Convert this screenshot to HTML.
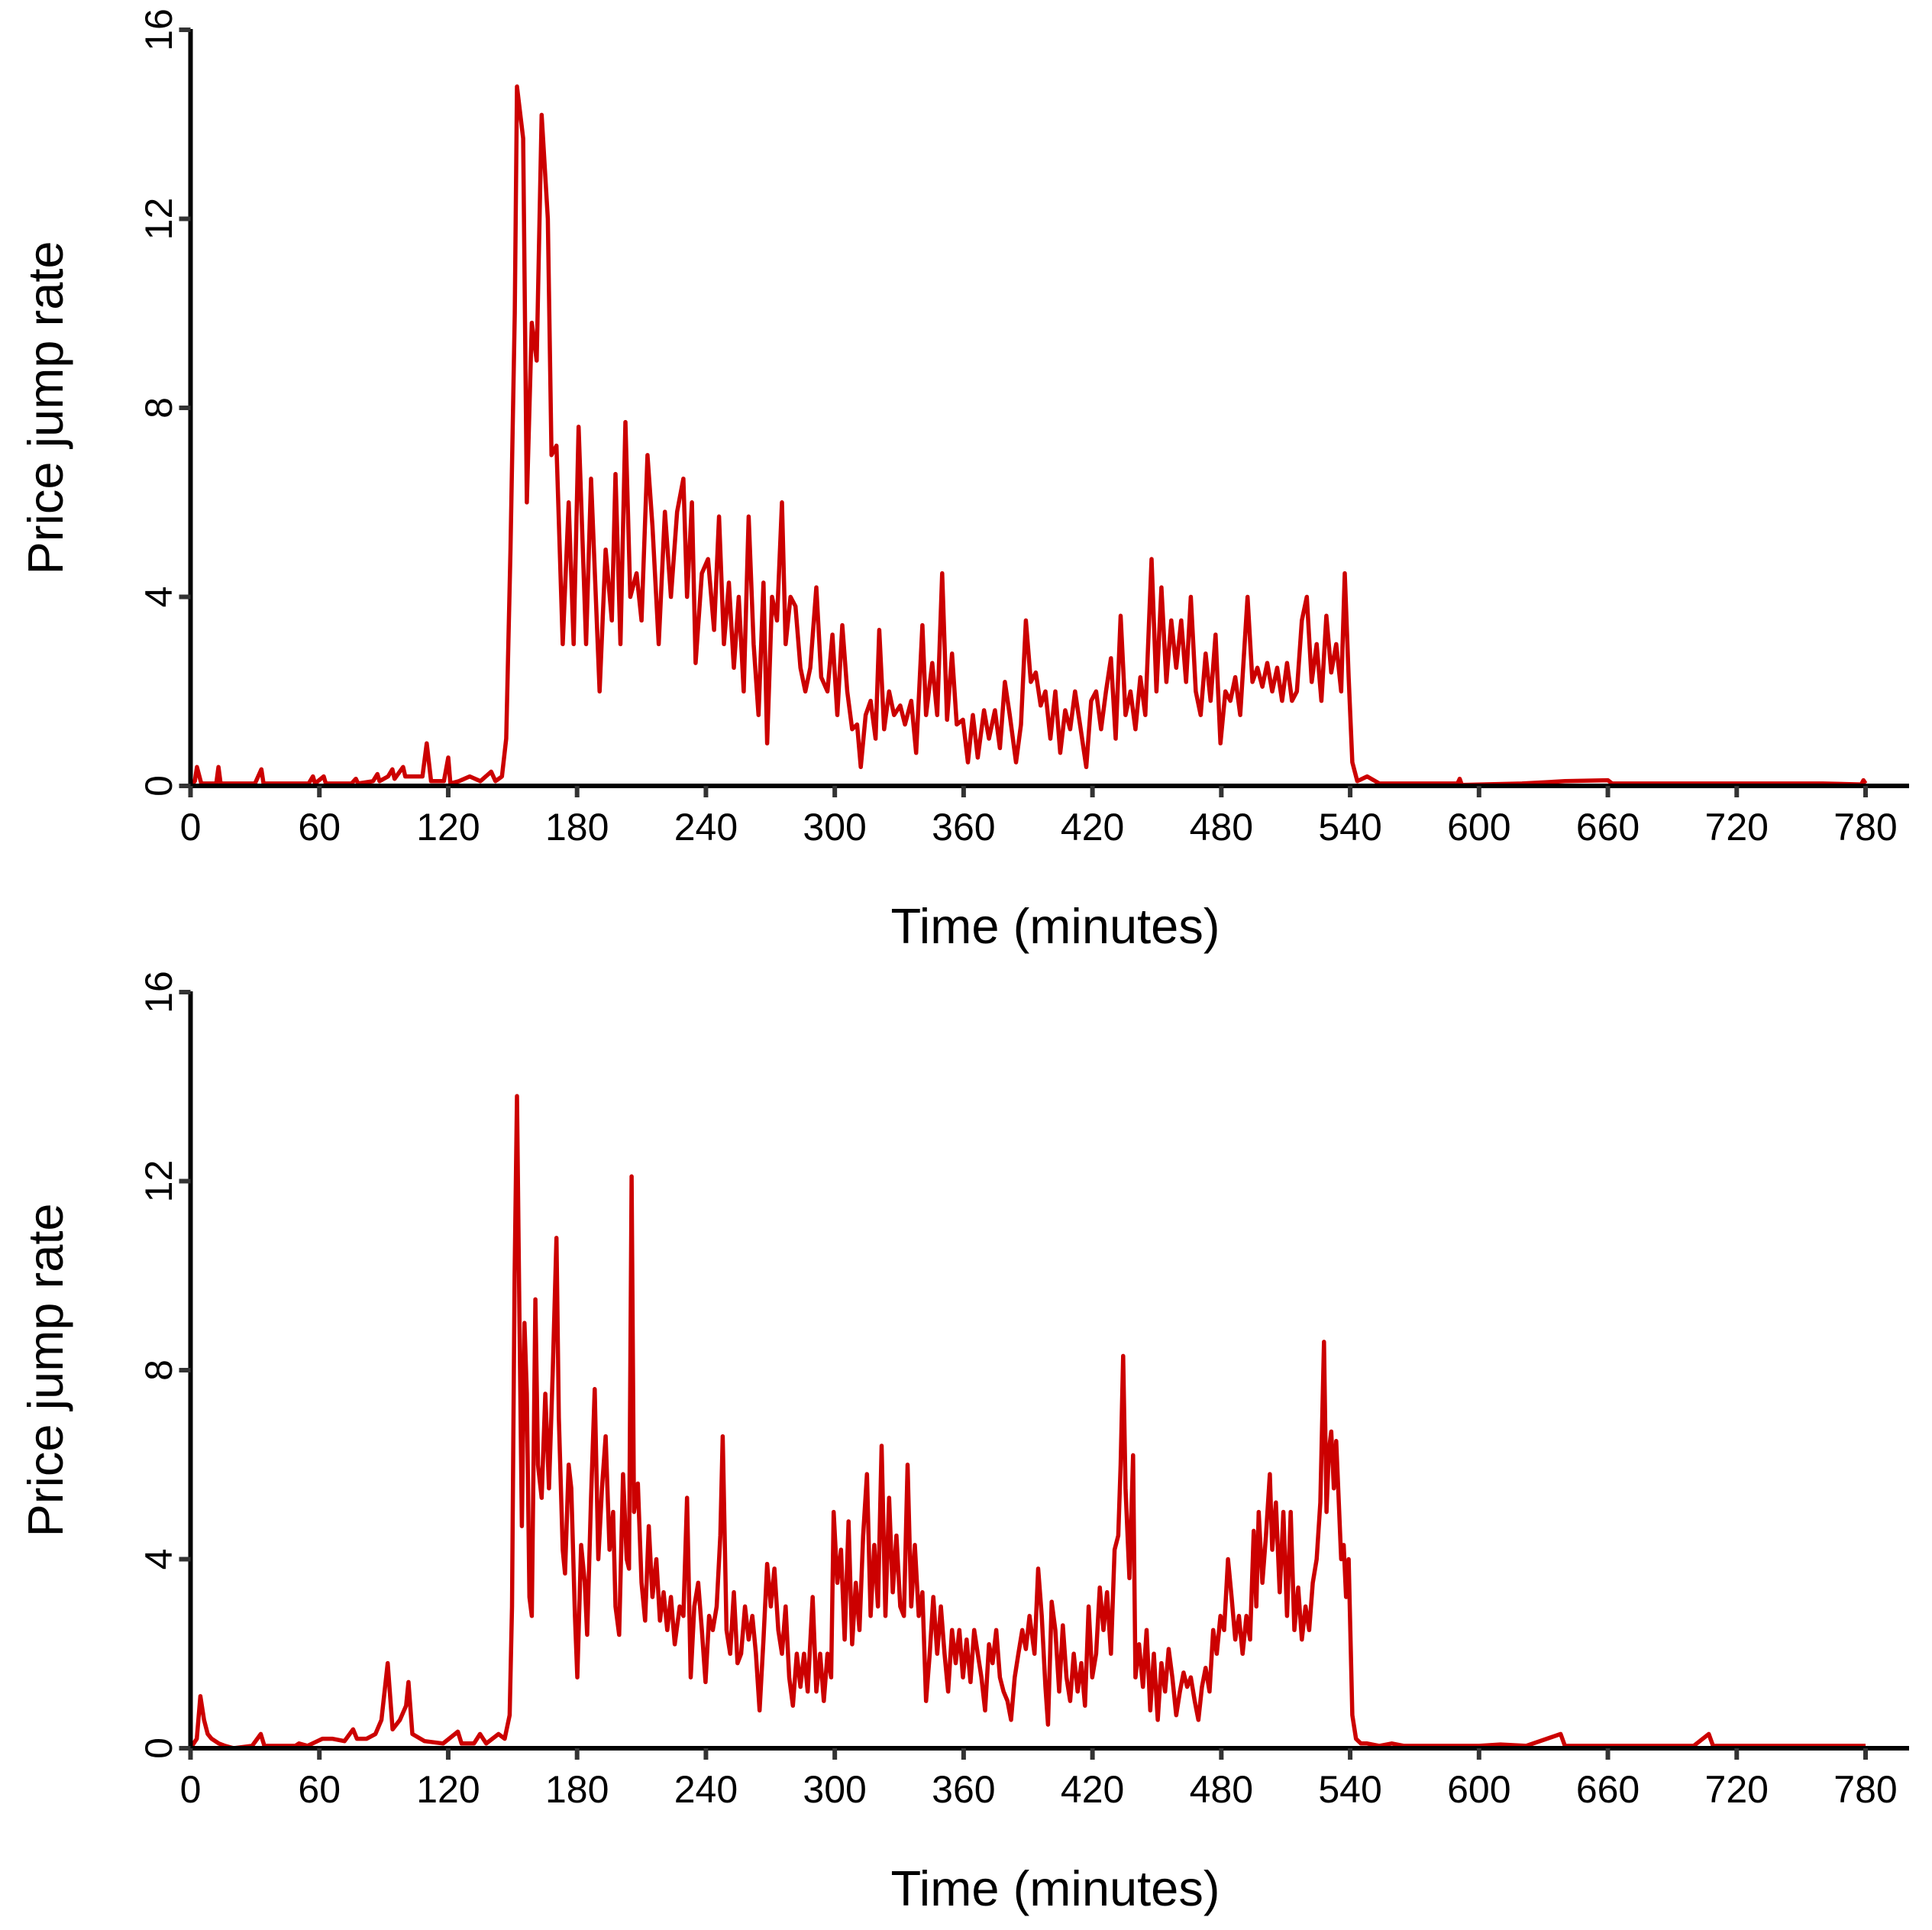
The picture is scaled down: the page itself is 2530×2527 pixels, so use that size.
<!DOCTYPE html>
<html><head><meta charset="utf-8"><style>
html,body{margin:0;padding:0;background:#fff}
svg{display:block}
text{font-family:"Liberation Sans",Arial,sans-serif;fill:#000}
</style></head><body>
<svg id="chart" width="2530" height="2527" viewBox="0 0 2530 2527" xmlns="http://www.w3.org/2000/svg"></svg>
<script>
const xTicks=[0,60,120,180,240,300,360,420,480,540,600,660,720,780];
const yTicks=[0,4,8,12,16];
const topTimes=[0,2,3,5,12,13,14,30,33,34,55,57,58,62,63,75,77,78,85,87,88,92,94,95,99,100,104,108,110,112,118,120,121,125,130,135,140,142,145,147,149,151,
152.0,154.9,156.6,158.9,161.2,163.5,166.4,168.1,170.4,173.3,176.1,178.4,180.7,184.2,186.5,190.5,193.3,196.2,197.9,200.2,202.5,204.8,207.7,210.0,212.8,215.1,218.0,220.9,223.7,226.6,229.5,231.2,233.5,235.2,238.1,241.0,243.8,246.1,248.4,250.7,253.0,255.3,257.6,259.9,262.2,264.5,266.8,268.5,270.8,273.1,275.4,277.1,279.4,281.7,284.0,286.3,288.6,291.4,293.7,296.6,298.9,301.2,303.5,305.8,308.1,310.4,312.1,314.4,316.7,319.0,320.7,323.0,325.3,327.6,330.5,332.7,335.6,337.9,340.8,342.5,345.4,347.7,350.0,352.3,354.6,356.8,359.7,362.0,364.3,366.6,369.5,371.8,374.6,376.9,379.2,381.5,384.4,386.7,389.0,391.3,393.6,395.9,398.1,400.4,402.7,405.0,407.3,409.6,411.9,414.2,417.1,419.4,421.7,424.0,426.3,428.6,430.8,433.1,435.4,437.7,440.0,442.3,444.6,447.5,449.8,452.1,454.4,456.7,459.0,461.3,463.6,465.8,468.1,470.4,472.7,475.0,477.3,479.6,481.9,484.2,486.5,488.8,492.2,494.5,496.8,499.1,501.4,503.7,506.0,508.3,510.6,512.9,515.2,517.5,519.8,522.1,524.4,526.6,528.9,531.2,533.5,535.8,537.5,539.3,541.0,543.3,547.9,553.6,
560,590,591,592,620,640,660,662,700,720,760,778,779,780];
const topValues=[0,0.1,0.4,0.05,0.05,0.4,0.05,0.05,0.35,0.05,0.05,0.2,0.05,0.2,0.05,0.05,0.15,0.05,0.1,0.25,0.1,0.2,0.35,0.15,0.4,0.2,0.2,0.2,0.9,0.1,0.1,0.6,0.05,0.1,0.2,0.1,0.3,0.1,0.2,1.0,5,10,
14.8,13.7,6,9.8,9,14.2,12,7,7.2,3,6,3,7.6,3,6.5,2,5,3.5,6.6,3,7.7,4,4.5,3.5,7,5.5,3,5.8,4,5.8,6.5,4,6,2.6,4.5,4.8,3.3,5.7,3,4.3,2.5,4,2,5.7,3,1.5,4.3,0.9,4,3.5,6,3,4,3.8,2.5,2,2.5,4.2,2.3,2,3.2,1.5,3.4,2,1.2,1.3,0.4,1.5,1.8,1.0,3.3,1.2,2,1.5,1.7,1.3,1.8,0.7,3.4,1.5,2.6,1.5,4.5,1.4,2.8,1.3,1.4,0.5,1.5,0.6,1.6,1.0,1.6,0.8,2.2,1.5,0.5,1.3,3.5,2.2,2.4,1.7,2.0,1.0,2.0,0.7,1.6,1.2,2.0,1.3,0.4,1.8,2.0,1.2,2.0,2.7,1.0,3.6,1.5,2.0,1.2,2.3,1.5,4.8,2.0,4.2,2.2,3.5,2.5,3.5,2.2,4.0,2.0,1.5,2.8,1.8,3.2,0.9,2.0,1.8,2.3,1.5,4.0,2.2,2.5,2.1,2.6,2.0,2.5,1.8,2.6,1.8,2.0,3.5,4.0,2.2,3.0,1.8,3.6,2.4,3.0,2.0,4.5,2.3,0.5,0.1,0.2,0.05,
0.05,0.05,0.15,0.02,0.05,0.1,0.12,0.05,0.05,0.05,0.05,0.03,0.12,0.05];
const bottomTimes=[0,2.9,4.6,6.3,8.0,9.8,13.2,16.1,20.1,28.7,32.7,34.4,48.8,50.5,54.5,59.1,61.4,66.0,71.7,75.7,77.5,82.0,86.1,88.9,91.8,94.1,97.5,100.4,101.5,103.3,109.0,117.6,124.5,126.2,132.0,134.8,137.7,143.4,146.3,148.6,149.7,150.9,152.0,153.2,154.3,155.5,156.6,157.8,158.9,160.6,161.8,163.5,165.2,166.9,168.7,170.4,171.5,173.3,174.4,176.1,177.3,179.0,180.1,181.9,183.6,184.7,186.5,188.2,189.9,191.6,193.3,195.1,196.8,197.9,199.6,201.4,203.1,204.2,205.4,206.5,208.3,210.0,211.7,213.4,215.1,216.9,218.6,220.3,222.0,223.7,225.5,227.8,229.5,231.2,232.9,234.6,236.4,238.1,239.8,241.5,243.2,245.0,246.7,247.8,249.6,251.3,253.0,254.7,256.4,258.2,259.9,261.6,263.3,265.0,266.8,268.5,270.2,271.9,273.7,275.4,277.1,278.8,280.5,282.3,284.0,285.7,287.4,289.7,291.4,293.2,294.9,296.6,298.3,299.5,301.2,302.9,304.6,306.4,308.1,309.8,311.5,313.2,315.0,316.7,318.4,320.1,321.8,323.6,325.3,327.0,328.7,330.5,332.2,333.9,335.6,337.3,339.1,340.8,342.5,344.2,345.9,347.7,349.4,351.1,352.8,354.6,356.3,358.0,359.7,361.4,363.2,364.9,366.6,368.3,370.0,371.8,373.5,375.2,376.9,378.6,380.4,382.1,383.8,385.5,387.3,389.0,390.7,393.0,394.7,396.4,398.1,399.3,401.0,402.7,404.5,406.2,407.9,409.6,411.3,413.1,414.8,416.5,418.2,419.9,421.7,423.4,425.1,426.8,428.6,430.3,432.0,433.1,434.3,435.4,437.2,438.9,440.0,441.7,443.5,445.2,446.9,448.6,450.4,452.1,453.8,455.5,457.2,459.0,460.7,462.4,464.1,465.8,467.6,469.3,471.0,472.7,474.5,476.2,477.9,479.6,481.3,483.1,484.8,486.5,488.2,489.9,491.7,493.4,495.1,496.3,497.4,499.1,500.8,502.6,503.7,505.4,507.2,508.9,510.6,512.3,514.0,515.8,517.5,519.2,520.9,522.6,524.4,526.1,527.8,529.0,530.1,531.2,532.4,533.5,534.7,535.8,537.0,538.1,539.3,541.0,542.7,545.0,547.9,553.6,559.4,565.1,
600,610,622,638,640,680,700,707,709,720,760,780];
const bottomValues=[0,0.2,1.1,0.6,0.3,0.2,0.1,0.05,0,0.05,0.3,0.05,0.05,0.1,0.05,0.15,0.2,0.2,0.15,0.4,0.2,0.2,0.3,0.6,1.8,0.4,0.6,0.9,1.4,0.3,0.15,0.1,0.35,0.1,0.1,0.3,0.1,0.3,0.2,0.7,3,10,13.8,9,4.7,9,7.5,3.2,2.8,9.5,6,5.3,7.5,5.5,8,10.8,7,4.2,3.7,6,5.5,2.8,1.5,4.3,3.5,2.4,5.3,7.6,4.0,5.5,6.6,4.2,5.0,3.0,2.4,5.8,4.0,3.8,12.1,5.0,5.6,3.5,2.7,4.7,3.2,4.0,2.7,3.3,2.5,3.2,2.2,3.0,2.8,5.3,1.5,3.0,3.5,2.5,1.4,2.8,2.5,3.0,4.5,6.6,2.5,2.0,3.3,1.8,2.0,3.0,2.3,2.8,2.0,0.8,2.3,3.9,3.0,3.8,2.5,2.0,3.0,1.5,0.9,2.0,1.3,2.0,1.2,3.2,1.2,2.0,1.0,2.0,1.5,5.0,3.5,4.2,2.3,4.8,2.2,3.5,2.5,4.5,5.8,2.8,4.3,3.0,6.4,2.8,5.3,3.3,4.5,3.0,2.8,6.0,3.0,4.3,2.8,3.3,1.0,2.0,3.2,2.0,3.0,2.0,1.2,2.5,1.8,2.5,1.5,2.3,1.4,2.5,2.0,1.5,0.8,2.2,1.8,2.5,1.5,1.2,1.0,0.6,1.5,2.0,2.5,2.1,2.8,2.0,3.8,2.8,1.3,0.5,3.1,2.5,1.2,2.6,1.5,1.0,2.0,1.2,1.8,0.9,3.0,1.5,2.0,3.4,2.5,3.3,2.0,4.2,4.5,6.0,8.3,5.5,3.6,6.2,1.5,2.2,1.3,2.5,0.8,2.0,0.6,1.8,1.2,2.1,1.5,0.7,1.2,1.6,1.3,1.5,1.0,0.6,1.3,1.7,1.2,2.5,2.0,2.8,2.5,4.0,3.2,2.3,2.8,2.0,2.8,2.3,4.6,3.0,5.0,3.5,4.5,5.8,4.2,5.2,3.3,5.0,2.8,5.0,2.5,3.4,2.3,3.0,2.5,3.5,4.0,5.2,8.6,5.0,6.3,6.7,5.5,6.5,5.2,4.0,4.3,3.2,4.0,0.7,0.2,0.1,0.1,0.05,0.1,0.05,
0.05,0.08,0.05,0.3,0.05,0.05,0.05,0.3,0.05,0.05,0.05,0.05];

const NS='http://www.w3.org/2000/svg';
const svg=document.getElementById('chart');
function mk(tag,attrs,parent){const e=document.createElementNS(NS,tag);for(const k in attrs)e.setAttribute(k,attrs[k]);(parent||svg).appendChild(e);return e;}
const X0=249.5,X1=2443,XMAX=780;
function xScale(t){return X0+(X1-X0)*t/XMAX;}

function panel(name,yZero,times,values){
  const g=mk('g',{});
  
  
  const yTop=yZero-990;
  const yScale=v=>yZero-(yZero-yTop)*v/16;
  let d='';
  for(let i=0;i<times.length;i++){d+=(i?'L':'M')+xScale(times[i]).toFixed(1)+' '+yScale(values[i]).toFixed(1);}
  const line=mk('path',{d:d,fill:'none',stroke:'#cc0000','stroke-width':5.5,'stroke-linejoin':'round'},g);
  
  
  const ya=mk('line',{x1:X0,y1:yTop-1,x2:X0,y2:yZero+3,stroke:'#000','stroke-width':6},g);
  
  
  const xa=mk('line',{x1:X0-3,y1:yZero,x2:2500,y2:yZero,stroke:'#000','stroke-width':6},g);
  
  
  xTicks.forEach(t=>{
    const x=xScale(t);
    mk('line',{x1:x,y1:yZero,x2:x,y2:yZero+15,stroke:'#333','stroke-width':6},g);
    const tx=mk('text',{x:x,y:yZero+71,'font-size':50,'text-anchor':'middle'},g);
    tx.textContent=t;
    
    
  });
  yTicks.forEach(v=>{
    const y=yScale(v);
    mk('line',{x1:X0-15,y1:y,x2:X0,y2:y,stroke:'#333','stroke-width':6},g);
    const tx=mk('text',{x:0,y:0,'font-size':50,'text-anchor':'middle',transform:`translate(225,${y}) rotate(-90)`},g);
    tx.textContent=v;
    
    
  });
  const xt=mk('text',{x:1382,y:yZero+206,'font-size':65,'text-anchor':'middle'},g);
  xt.textContent='Time (minutes)';
  
  
  const yt=mk('text',{x:0,y:0,'font-size':65,'text-anchor':'middle',transform:`translate(82,${yZero-495}) rotate(-90)`},g);
  yt.textContent='Price jump rate';
  
  
}
panel('top-panel',1029,topTimes,topValues);
panel('bottom-panel',2289,bottomTimes,bottomValues);
</script>
</body></html>
